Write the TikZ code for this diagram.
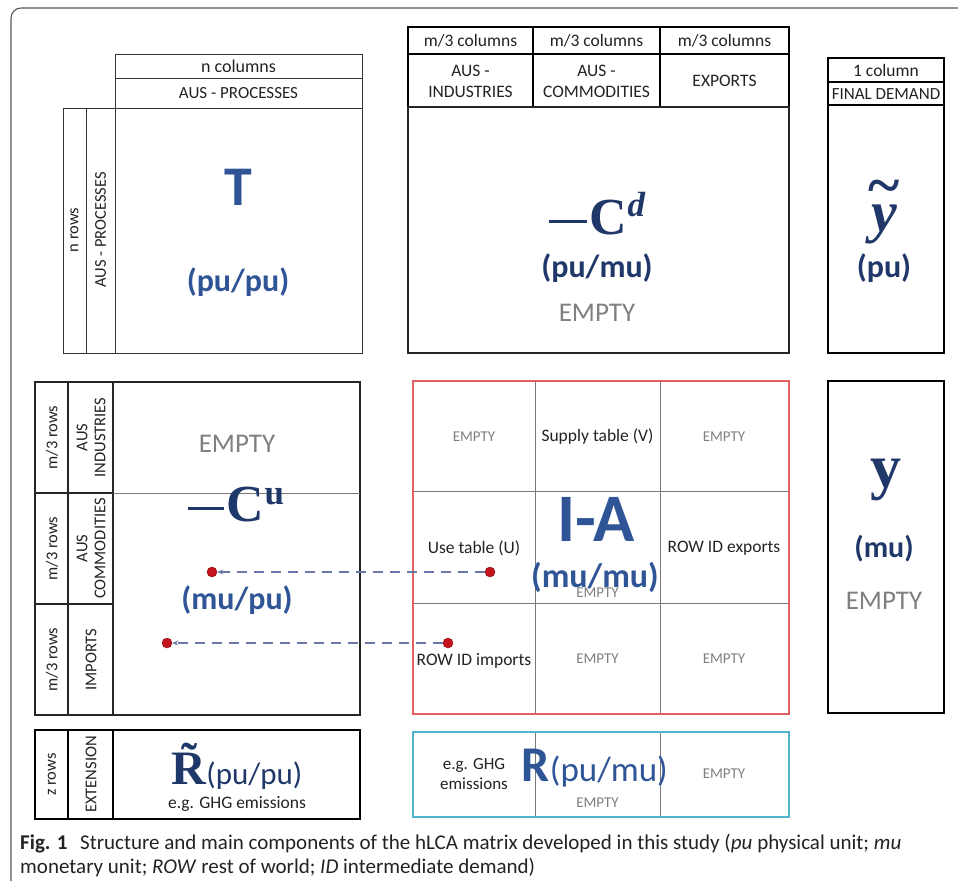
\documentclass[tikz,border=0pt]{standalone}
\usepackage{fontspec}
\setmainfont{Carlito}
\newfontfamily\serifb{Liberation Serif}
\usetikzlibrary{arrows.meta}
\definecolor{mblue}{RGB}{47,85,151}
\definecolor{mnavy}{RGB}{32,56,105}
\definecolor{mgray}{RGB}{128,128,128}
\definecolor{mred}{RGB}{226,95,95}
\definecolor{mcyan}{RGB}{80,180,205}
\definecolor{dotred}{RGB}{195,20,30}
\definecolor{dashc}{RGB}{105,120,168}
\definecolor{gridc}{RGB}{120,120,120}
\definecolor{txt}{RGB}{35,35,35}
\newcommand{\fs}[1]{\fontsize{#1}{#1}\selectfont}
\begin{document}
\begin{tikzpicture}[x=1pt,y=-1pt,
  thinb/.style={draw=black!80,line width=0.9pt},
  medb/.style={draw=black!85,line width=1.3pt},
  thickb/.style={draw=black,line width=2pt},
  gridl/.style={draw=gridc,line width=0.7pt},
  hdr/.style={font=\fs{17.5},text=txt,align=center,inner sep=0pt},
  lbl/.style={font=\fontsize{17.5}{19}\selectfont,text=txt,align=center,inner sep=0pt},
  rlbl/.style={font=\fontsize{16.5}{18}\selectfont,text=txt,align=center,inner sep=0pt,rotate=90},
  emsm/.style={font=\fs{15},text=mgray,inner sep=0pt},
  emlg/.style={font=\fs{27},text=mgray,inner sep=0pt},
  unitb/.style={font=\bfseries\fs{32},text=mblue,inner sep=0pt},
  unitn/.style={font=\bfseries\fs{32},text=mnavy,inner sep=0pt},
  dot/.style={circle,fill=dotred,draw=dotred!70!black,line width=0.4pt,minimum size=10pt,inner sep=0pt},
  link/.style={draw=dashc,line width=1.4pt,dash pattern=on 10pt off 7pt,-{Stealth[length=6pt,width=5pt]}},
  capt/.style={font=\fs{21},text=txt,anchor=base west,inner sep=0pt}
]
\useasboundingbox (0,0) rectangle (958,881);
\fill[white] (0,0) rectangle (958,881);
% outer frame
\draw[draw=black!65,line width=1.1pt,rounded corners=10pt] (11,881) -- (11,8) -- (958,8);

% ---------- top-left block (T)
\draw[thinb] (115,54) rectangle (362,353);
\draw[thinb] (115,78) -- (362,78) (115,108) -- (362,108);
\draw[thinb] (63,108) rectangle (115,353) (86,108) -- (86,353);
\node[hdr,font=\fs{18}] (ncol) at (238.5,66) {n columns};
\node[hdr,font=\fs{17}] (ausp) at (238.5,93) {AUS - PROCESSES};
\node[rlbl] (nrows) at (74.5,230) {n rows};
\node[rlbl] (ausprow) at (100.5,230) {AUS - PROCESSES};
\node[font=\bfseries\fs{56},text=mblue,inner sep=0pt] (T) at (238,187) {T};
\node[unitb] (Tu) at (238,282) {(pu/pu)};

% ---------- top-middle block (C^d)
\draw[thickb] (408,27) rectangle (789,107);
\draw[thickb] (408,54) -- (789,54) (533,27) -- (533,107) (660,27) -- (660,107);
\draw[medb] (408,107) rectangle (789,353);
\node[hdr] (mc1) at (470.5,41) {m/3 columns};
\node[hdr] (mc2) at (596.5,41) {m/3 columns};
\node[hdr] (mc3) at (724.5,41) {m/3 columns};
\node[hdr,font=\fontsize{17.5}{21}\selectfont] (h1) at (470.5,81) {AUS -\\INDUSTRIES};
\node[hdr,font=\fontsize{17.5}{21}\selectfont] (h2) at (596.5,81) {AUS -\\COMMODITIES};
\node[hdr] (h3) at (724.5,81) {EXPORTS};
\node[font=\serifb\bfseries\fs{52},text=mnavy,inner sep=0pt] (Cd) at (597,214)
  {\rule[11.5pt]{38pt}{3.4pt}\kern3pt C\raisebox{18pt}{\fs{35}\itshape d}};
\node[unitn] (Cdu) at (597,268) {(pu/mu)};
\node[emlg] (Cde) at (597,313) {EMPTY};

% ---------- final demand block
\draw[thickb] (828,58) rectangle (944,353);
\draw[thickb] (828,82) -- (944,82) (828,105) -- (944,105);
\node[hdr] (fd1) at (886,70) {1 column};
\node[hdr,font=\fs{17}] (fd2) at (886,94) {FINAL DEMAND};
\node[font=\serifb\bfseries\fs{58},text=mnavy,inner sep=0pt,align=center,anchor=base] (yt) at (884,231)
  {{\fs{60}\symbol{"7E}}\\[-32pt]{\itshape y}};
\node[unitn] (ytu) at (884,268) {(pu)};

% ---------- middle-left block (C^u)
\draw[medb] (35,382) rectangle (360,715);
\draw[medb] (68,382) -- (68,715) (113,382) -- (113,715);
\draw[medb] (35,493) -- (113,493) (35,604) -- (113,604);
\draw[gridl] (113,493) -- (360,493);
\node[rlbl] (r1) at (52,437.5) {m/3 rows};
\node[rlbl] (r2) at (52,548.5) {m/3 rows};
\node[rlbl] (r3) at (52,659.5) {m/3 rows};
\node[rlbl] (l1) at (91,437.5) {AUS\\INDUSTRIES};
\node[rlbl] (l2) at (91,548.5) {AUS\\COMMODITIES};
\node[rlbl] (l3) at (91,659.5) {IMPORTS};
\node[emlg] (Cue) at (237,444) {EMPTY};
\node[font=\serifb\bfseries\fs{52},text=mnavy,inner sep=0pt] (Cu) at (236,505)
  {\rule[11.5pt]{36pt}{3.4pt}\kern3pt C\raisebox{17pt}{\fs{35}u}};
\node[unitb] (Cuu) at (237,600) {(mu/pu)};

% ---------- I-A block
\draw[gridl] (535,381) -- (535,714) (660,381) -- (660,714)
             (413,491) -- (789,491) (413,603) -- (789,603);
\draw[draw=mred,line width=1.4pt] (413,381) rectangle (789,714);
\node[emsm] (a11) at (474,437) {EMPTY};
\node[lbl] (a12) at (597.5,437) {Supply table (V)};
\node[emsm] (a13) at (724,437) {EMPTY};
\node[lbl] (a21) at (474,548) {Use table (U)};
\node[lbl] (a23) at (724,548) {ROW ID exports};
\node[lbl] (a31) at (474,661) {ROW ID imports};
\node[emsm] (a32) at (597.5,659) {EMPTY};
\node[emsm] (a33) at (724,659) {EMPTY};
\node[font=\bfseries\fs{68},text=mblue,inner sep=0pt] (IA) at (596,519) {I-A};
\node[unitb,font=\bfseries\fs{34}] (IAu) at (595,577) {(mu/mu)};
\node[emsm] (a22) at (597.5,593) {EMPTY};

% ---------- y block
\draw[thickb] (828,381) rectangle (944,713);
\node[font=\serifb\bfseries\fs{62},text=mnavy,inner sep=0pt] (y) at (886,480) {y};
\node[unitn,font=\bfseries\fs{30}] (yu) at (884,549) {(mu)};
\node[emlg] (ye) at (884,601) {EMPTY};

% ---------- dashed links
\node[dot] (d1l) at (212,572) {};
\node[dot] (d1r) at (490,572) {};
\node[dot] (d2l) at (167,643) {};
\node[dot] (d2r) at (448,643) {};
\draw[link] (d1r) -- (d1l);
\draw[link] (d2r) -- (d2l);

% ---------- bottom-left block (R tilde)
\draw[thickb] (35,730) rectangle (360,819);
\draw[thickb] (68,730) -- (68,819) (113,730) -- (113,819);
\node[rlbl] (zr) at (52,774.5) {z rows};
\node[rlbl] (ext) at (91,774.5) {EXTENSION};
\node[inner sep=0pt,text=mnavy,anchor=base] (Rt) at (237,784)
  {{\serifb\bfseries\fs{48}\~{R}}{\fs{31}(pu/pu)}};
\node[lbl] (Rte) at (237,804) {e.g. GHG emissions};

% ---------- bottom-middle block (R)
\draw[gridl] (535,732) -- (535,817) (660,732) -- (660,817);
\draw[draw=mcyan,line width=1.5pt] (413,732) rectangle (789,817);
\node[lbl,font=\fontsize{17}{20}\selectfont] (b1) at (474,774) {e.g. GHG\\emissions};
\node[inner sep=0pt,text=mblue,anchor=base east] (R) at (668,781)
  {{\bfseries\fs{50}R}{\fs{35}(pu/mu)}};
\node[emsm] (b2) at (597.5,803) {EMPTY};
\node[emsm] (b3) at (724,774) {EMPTY};

% ---------- caption
\node[capt] (cap1) at (20,849) {\textbf{Fig. 1}\hspace{0.6em}Structure and main components of the hLCA matrix developed in this study (\textit{pu} physical unit; \textit{mu}};
\node[capt] (cap2) at (20,873) {monetary unit; \textit{ROW} rest of world; \textit{ID} intermediate demand)};
\end{tikzpicture}
\end{document}
